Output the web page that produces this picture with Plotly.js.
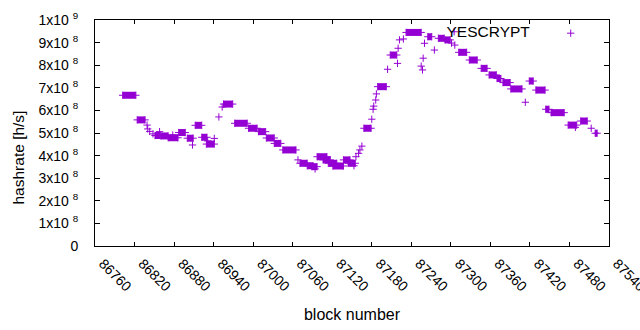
<!DOCTYPE html>
<html>
<head>
<meta charset="utf-8">
<script src="https://cdn.plot.ly/plotly-3.0.1.min.js"></script>
<style>
  html, body { margin: 0; padding: 0; background: #fff; }
  #chart { width: 640px; height: 330px; }
</style>
</head>
<body>
<div id="chart"></div>
<script>
// Runs of blocks with (nearly) constant hashrate: start block, end block, hashrate [h/s]
const runStart = [86802, 86824, 86851, 86860, 86871, 86887, 86900, 86912, 86922, 86929,
                  86955, 86972, 86993, 87008, 87020, 87032, 87045, 87071, 87082, 87089,
                  87097, 87106, 87114, 87121, 87137, 87144, 87168, 87189, 87208, 87232,
                  87265, 87281, 87291, 87312, 87328, 87346, 87358, 87370, 87379, 87391,
                  87419, 87429, 87444, 87452, 87478, 87497, 87519];
const runEnd   = [86822, 86836, 86859, 86871, 86886, 86897, 86909, 86922, 86930, 86941,
                  86969, 86991, 87006, 87019, 87032, 87042, 87065, 87082, 87091, 87097,
                  87112, 87117, 87127, 87137, 87147, 87155, 87179, 87202, 87218, 87255,
                  87271, 87290, 87299, 87324, 87340, 87355, 87369, 87376, 87390, 87408,
                  87425, 87443, 87449, 87472, 87491, 87507, 87522];
const runRate  = [6.67e8, 5.58e8, 4.89e8, 4.87e8, 4.79e8, 5.02e8, 4.77e8, 5.34e8, 4.81e8, 4.51e8,
                  6.28e8, 5.43e8, 5.21e8, 5.06e8, 4.78e8, 4.54e8, 4.25e8, 3.66e8, 3.55e8, 3.51e8,
                  3.95e8, 3.81e8, 3.66e8, 3.54e8, 3.81e8, 3.66e8, 5.21e8, 7.05e8, 8.45e8, 9.45e8,
                  9.26e8, 9.19e8, 9.12e8, 8.57e8, 8.23e8, 7.86e8, 7.57e8, 7.41e8, 7.23e8, 6.95e8,
                  7.30e8, 6.90e8, 6.05e8, 5.90e8, 5.35e8, 5.53e8, 4.99e8];

// Individual blocks off the runs
const pointBlock = [86839, 86840, 86843, 86848, 86858, 86878, 86908, 86931, 86941, 86948,
                    86953, 87068, 87094, 87153, 87156, 87160, 87162, 87165, 87180, 87182,
                    87183, 87186, 87187, 87204, 87219, 87220, 87222, 87228, 87255, 87257,
                    87258, 87260, 87275, 87301, 87305, 87306, 87413, 87489, 87513];
const pointRate  = [5.35e8, 5.18e8, 5.07e8, 4.96e8, 5.06e8, 4.91e8, 4.47e8, 4.65e8, 4.76e8, 5.71e8,
                    6.15e8, 3.81e8, 3.41e8, 3.55e8, 3.95e8, 4.10e8, 4.25e8, 4.42e8, 5.61e8, 6.05e8,
                    6.19e8, 6.46e8, 6.73e8, 7.82e8, 8.08e8, 8.75e8, 9.12e8, 9.16e8, 7.96e8, 7.79e8,
                    8.31e8, 8.97e8, 8.67e8, 8.98e8, 9.48e8, 8.89e8, 6.36e8, 5.25e8, 5.21e8];

const xTicks = [86760, 86820, 86880, 86940, 87000, 87060, 87120, 87180, 87240, 87300, 87360, 87420, 87480, 87540];
const yTickVals = [0, 1e8, 2e8, 3e8, 4e8, 5e8, 6e8, 7e8, 8e8, 9e8, 1e9];
const yTickText = ['0', '1x10 <sup>8</sup>', '2x10 <sup>8</sup>', '3x10 <sup>8</sup>', '4x10 <sup>8</sup>',
                   '5x10 <sup>8</sup>', '6x10 <sup>8</sup>', '7x10 <sup>8</sup>', '8x10 <sup>8</sup>',
                   '9x10 <sup>8</sup>', '1x10 <sup>9</sup>'];
const seriesName = 'YESCRYPT';

const COLOR = '#9400d3';
const FONT = 'Liberation Sans, Arial, sans-serif';

// build run segments (separated by gaps)
const rx = [], ry = [];
for (let i = 0; i < runStart.length; i++) {
  rx.push(runStart[i], runEnd[i], null);
  ry.push(runRate[i], runRate[i], null);
}

const markerStyle = { symbol: 'cross-thin', size: 5.2, color: COLOR, line: { width: 1, color: COLOR } };

const traces = [
  {
    x: rx, y: ry, type: 'scatter', mode: 'lines+markers',
    line: { color: COLOR, width: 7 },
    marker: markerStyle, connectgaps: false, showlegend: false, hoverinfo: 'x+y'
  },
  {
    x: pointBlock, y: pointRate, type: 'scatter', mode: 'markers',
    marker: markerStyle, name: ' ', showlegend: true
  }
];

const layout = {
  width: 640, height: 330,
  margin: { l: 95, r: 31, t: 20, b: 84 },
  paper_bgcolor: '#fff', plot_bgcolor: '#fff',
  font: { family: FONT, size: 14, color: '#000' },
  xaxis: {
    range: [86760, 87540], tickmode: 'array', tickvals: xTicks,
    ticktext: xTicks.map(String), tickangle: 45,
    ticks: 'inside', ticklen: 4, tickcolor: '#000', tickwidth: 1,
    showline: true, linecolor: '#000', linewidth: 1, mirror: 'ticks',
    showgrid: false, zeroline: false,
    tickfont: { family: FONT, size: 14, color: '#000' },
    ticklabelstandoff: 3, ticklabelshift: 8, ticklabeloverflow: 'allow',
    title: { text: 'block number', font: { family: FONT, size: 16, color: '#000' }, standoff: 15 }
  },
  yaxis: {
    range: [0, 1e9], tickmode: 'array', tickvals: yTickVals, ticktext: yTickText,
    ticks: 'inside', ticklen: 5, tickcolor: '#000', tickwidth: 1,
    showline: true, linecolor: '#000', linewidth: 1, mirror: 'ticks',
    showgrid: false, zeroline: false,
    tickfont: { family: FONT, size: 14, color: '#000' },
    ticklabelstandoff: 13
  },
  legend: {
    x: 0.68, y: 1.015, xanchor: 'left', yanchor: 'top',
    bgcolor: 'rgba(0,0,0,0)', borderwidth: 0,
    font: { family: FONT, size: 15.5, color: '#000' },
    title: { text: seriesName + '\u00a0\u00a0\u00a0', side: 'left', font: { family: FONT, size: 15.5, color: '#000' } }
  },
  annotations: [{
    text: 'hashrate [h/s]', xref: 'paper', yref: 'paper', x: -0.1498, y: 0.3916,
    xanchor: 'center', yanchor: 'middle', textangle: -90, showarrow: false,
    font: { family: FONT, size: 15.5, color: '#000' }
  }]
};

Plotly.newPlot('chart', traces, layout, { displayModeBar: false, staticPlot: true });
</script>
</body>
</html>
